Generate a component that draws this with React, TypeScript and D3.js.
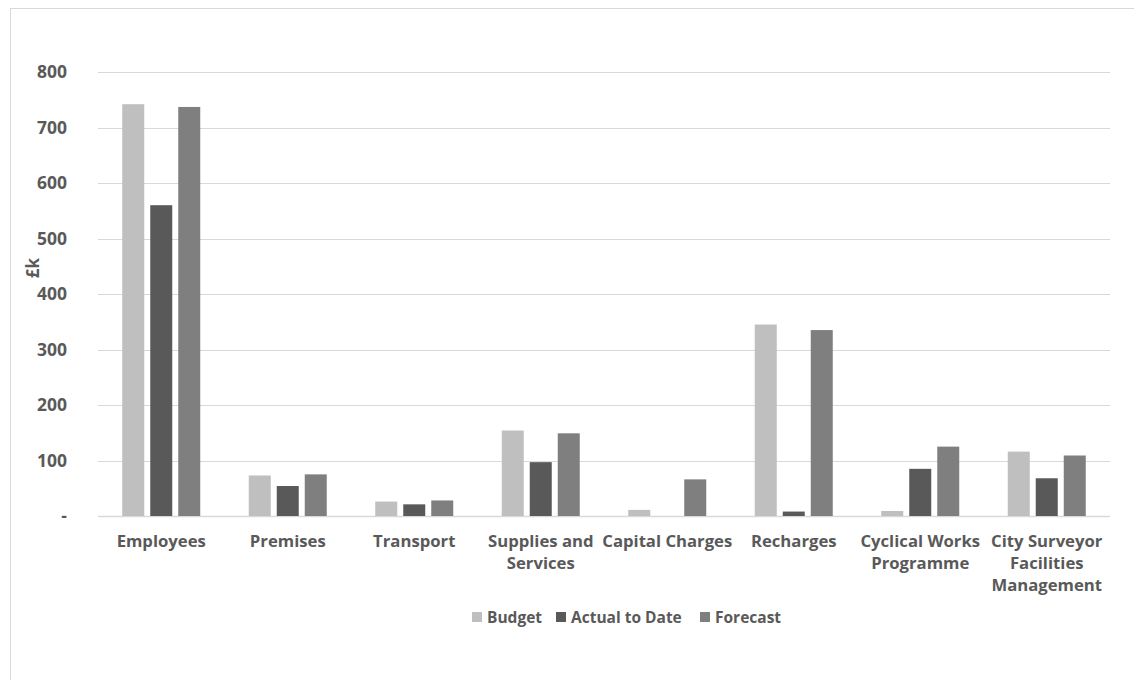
import React from "react";
import * as d3 from "d3";

const categories = [
  "Employees",
  "Premises",
  "Transport",
  "Supplies and\nServices",
  "Capital Charges",
  "Recharges",
  "Cyclical Works\nProgramme",
  "City Surveyor\nFacilities\nManagement",
];
const seriesNames = ["Budget", "Actual to Date", "Forecast"];
const budget = [742, 73, 26, 154, 11, 345, 9, 116];
const actualToDate = [560, 54, 21, 97, 0, 8, 85, 68];
const forecast = [737, 75, 28, 149, 66, 335, 125, 109];
const yTicks = [0, 100, 200, 300, 400, 500, 600, 700, 800];
const colors = ["#bfbfbf", "#595959", "#7f7f7f"];

const W = 1134;
const H = 680;
const left = 98;
const right = 1110;
const top = 72;
const bottom = 516;
const FONT = "'Open Sans', sans-serif";
const TEXT = "#595959";

export default function App() {
  const values = [budget, actualToDate, forecast];
  const x0 = d3.scaleBand<string>().domain(categories).range([left, right]);
  const inner = d3
    .scaleBand<string>()
    .domain(seriesNames)
    .range([0, 78])
    .paddingInner(6 / 28);
  const y = d3.scaleLinear().domain([0, 800]).range([bottom, top]);

  const legendItems = [
    { name: "Budget", x: 472 },
    { name: "Actual to Date", x: 556 },
    { name: "Forecast", x: 700 },
  ];

  return (
    <svg
      width={W}
      height={H}
      style={{ position: "absolute", left: 0, top: 0, display: "block" }}
      fontFamily={FONT}
    >
      <rect x={0} y={0} width={W} height={H} fill="#ffffff" />
      <rect x={10.5} y={8.5} width={W + 20} height={H + 20} fill="none" stroke="#d9d9d9" />
      {yTicks.map((t) => (
        <g key={t}>
          <line
            x1={left}
            x2={right}
            y1={Math.round(y(t)) + 0.5}
            y2={Math.round(y(t)) + 0.5}
            stroke="#d9d9d9"
            strokeWidth={t === 0 ? 1.5 : 1}
          />
          <text
            x={67}
            y={y(t)}
            dy="0.36em"
            textAnchor="end"
            fontSize={17.5}
            fontWeight={700}
            fill={TEXT}
          >
            {t === 0 ? "-" : String(t)}
          </text>
        </g>
      ))}
      <text
        transform={`translate(33,268) rotate(-90)`}
        textAnchor="middle"
        dy="0.35em"
        fontSize={17}
        fontWeight={700}
        fill={TEXT}
      >
        £k
      </text>
      {categories.map((c, i) => {
        const cx = (x0(c) as number) + x0.bandwidth() / 2;
        return (
          <g key={c}>
            {seriesNames.map((s, j) => {
              const v = values[j][i];
              if (v <= 0) return null;
              const bx = cx - 39 + (inner(s) as number);
              return (
                <rect
                  key={s}
                  x={bx}
                  y={y(v)}
                  width={inner.bandwidth()}
                  height={bottom - y(v)}
                  fill={colors[j]}
                />
              );
            })}
            {c.split("\n").map((line, k) => (
              <text
                key={k}
                x={cx}
                y={547 + k * 22}
                textAnchor="middle"
                fontSize={16.7}
                fontWeight={700}
                fill={TEXT}
              >
                {line}
              </text>
            ))}
          </g>
        );
      })}
      {legendItems.map((it, j) => (
        <g key={it.name}>
          <rect x={it.x} y={612} width={10} height={10} fill={colors[j]} />
          <text
            x={it.x + 15}
            y={617}
            dy="0.36em"
            fontSize={15.5}
            fontWeight={700}
            fill={TEXT}
          >
            {it.name}
          </text>
        </g>
      ))}
    </svg>
  );
}
